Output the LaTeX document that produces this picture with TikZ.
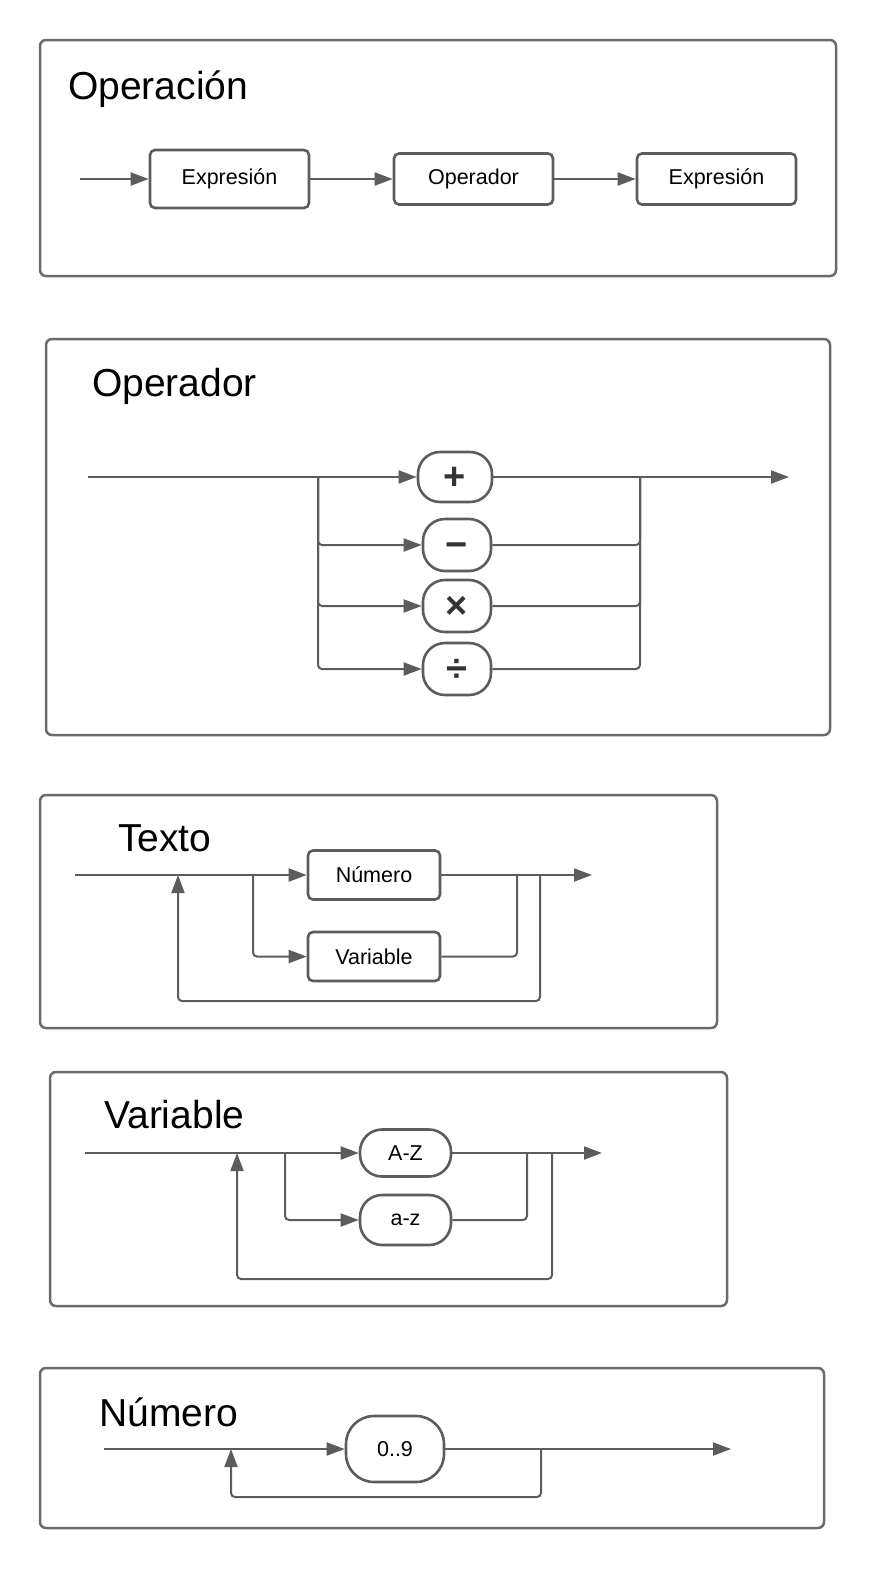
\documentclass[tikz,border=0pt]{standalone}
\usepackage{fontspec}
\setmainfont{Liberation Sans}
\usetikzlibrary{arrows.meta,positioning}

\definecolor{linegray}{HTML}{5C5C5C}
\definecolor{framegray}{HTML}{6B6B6B}
\definecolor{symgray}{HTML}{333333}

\tikzset{
  frame/.style={draw=framegray, line width=2.5pt, rounded corners=6pt},
  title/.style={anchor=base west, inner sep=0pt, font=\fontsize{39}{44}\selectfont},
  boxnode/.style={draw=linegray, line width=2.6pt, rounded corners=5pt,
    minimum width=159pt, minimum height=56pt, inner sep=0pt,
    font=\fontsize{21.5}{24}\selectfont},
  pill/.style={draw=linegray, line width=2.6pt, rounded corners=22pt,
    minimum width=68pt, minimum height=52pt, inner sep=0pt,
    font=\fontsize{21.5}{24}\selectfont},
  opsym/.style={pill, font=\fontsize{38}{40}\selectfont\bfseries, text=symgray,
    text height=25.5pt, text depth=0pt},
  conn/.style={draw=linegray, line width=2pt, rounded corners=4pt},
  arr/.style={conn, -{Triangle[length=18pt,width=13pt]}}
}

\begin{document}
\begin{tikzpicture}[x=1pt, y=-1pt]
  \useasboundingbox (0,0) rectangle (883,1580);

  %%%%%%%%%%%Operacion%%%%%%%%%%%
  \draw[frame] (40,40) rectangle (836,276);
  \node[title] (tope) at (68,99) {Operación};
  \node[boxnode, minimum height=58pt] (expA) at (229.5,179) {Expresión};
  \node[boxnode, minimum height=51pt] (oper) at (473.5,179) {Operador};
  \node[boxnode, minimum height=51pt] (expB) at (716.5,179) {Expresión};
  \coordinate (inA) at (80,179);
  \draw[arr] (inA) -- (expA);
  \draw[arr] (expA) -- (oper);
  \draw[arr] (oper) -- (expB);

  %%%%%%%%%%%Operador%%%%%%%%%%%%
  \draw[frame] (46,339) rectangle (830,735);
  \node[title] (topr) at (92,396) {Operador};
  \node[opsym, minimum width=74pt, minimum height=50pt] (plus) at (455,477) {+};
  \node[opsym] (minus) at (457,545) {−};
  \node[opsym] (times) at (457,606) {×};
  \node[opsym] (divi) at (457,669) {÷};
  \coordinate (inB) at (88,477);
  \coordinate (splitB) at (318,477);
  \coordinate (joinB) at (640,477);
  \coordinate (outB) at (789,477);
  \draw[arr] (inB) -- (plus);
  \foreach \n in {minus,times,divi}
    \draw[arr] (splitB) |- (\n);
  \draw[conn] (plus) -- (joinB);
  \foreach \n in {minus,times,divi}
    \draw[conn] (\n) -| (joinB);
  \draw[arr] (joinB) -- (outB);

  %%%%%%%%%%%Texto%%%%%%%%%%%%%%%
  \draw[frame] (40,795) rectangle (717,1028);
  \node[title] (ttex) at (118,851) {Texto};
  \node[boxnode, minimum width=132pt, minimum height=49pt] (num) at (374,875) {Número};
  \node[boxnode, minimum width=132pt, minimum height=49pt] (var) at (374,956.5) {Variable};
  \coordinate (inC) at (75,875);
  \coordinate (splitC) at (253,875);
  \coordinate (joinC) at (517,875);
  \coordinate (loopC) at (540,875);
  \coordinate (backC) at (178,875);
  \coordinate (outC) at (592,875);
  \draw[arr] (inC) -- (num);
  \draw[arr] (splitC) |- (var);
  \draw[conn] (var) -| (joinC);
  \draw[arr] (num) -- (outC);
  \draw[arr] (loopC) -- ++(0,126) -| (backC);

  %%%%%%%%%%%Variable%%%%%%%%%%%%
  \draw[frame] (50,1072) rectangle (727,1306);
  \node[title] (tvar) at (104,1128) {Variable};
  \node[pill, minimum width=91pt, minimum height=47pt] (upper) at (405.5,1153) {A-Z};
  \node[pill, minimum width=91pt, minimum height=50pt] (lower) at (405.5,1220) {a-z};
  \coordinate (inD) at (85,1153);
  \coordinate (splitD) at (285,1153);
  \coordinate (joinD) at (527,1153);
  \coordinate (loopD) at (552,1153);
  \coordinate (backD) at (237,1153);
  \coordinate (outD) at (602,1153);
  \draw[arr] (inD) -- (upper);
  \draw[arr] (splitD) |- (lower);
  \draw[conn] (lower) -| (joinD);
  \draw[arr] (upper) -- (outD);
  \draw[arr] (loopD) -- ++(0,126) -| (backD);

  %%%%%%%%%%%Numero%%%%%%%%%%%%%%
  \draw[frame] (40,1368) rectangle (824,1528);
  \node[title] (tnum) at (99,1426) {Número};
  \node[pill, minimum width=98pt, minimum height=66pt, rounded corners=28pt] (digit) at (395,1449) {0..9};
  \coordinate (inE) at (104,1449);
  \coordinate (loopE) at (541,1449);
  \coordinate (backE) at (231,1449);
  \coordinate (outE) at (731,1449);
  \draw[arr] (inE) -- (digit);
  \draw[arr] (digit) -- (outE);
  \draw[arr] (loopE) -- ++(0,48) -| (backE);
\end{tikzpicture}
\end{document}
